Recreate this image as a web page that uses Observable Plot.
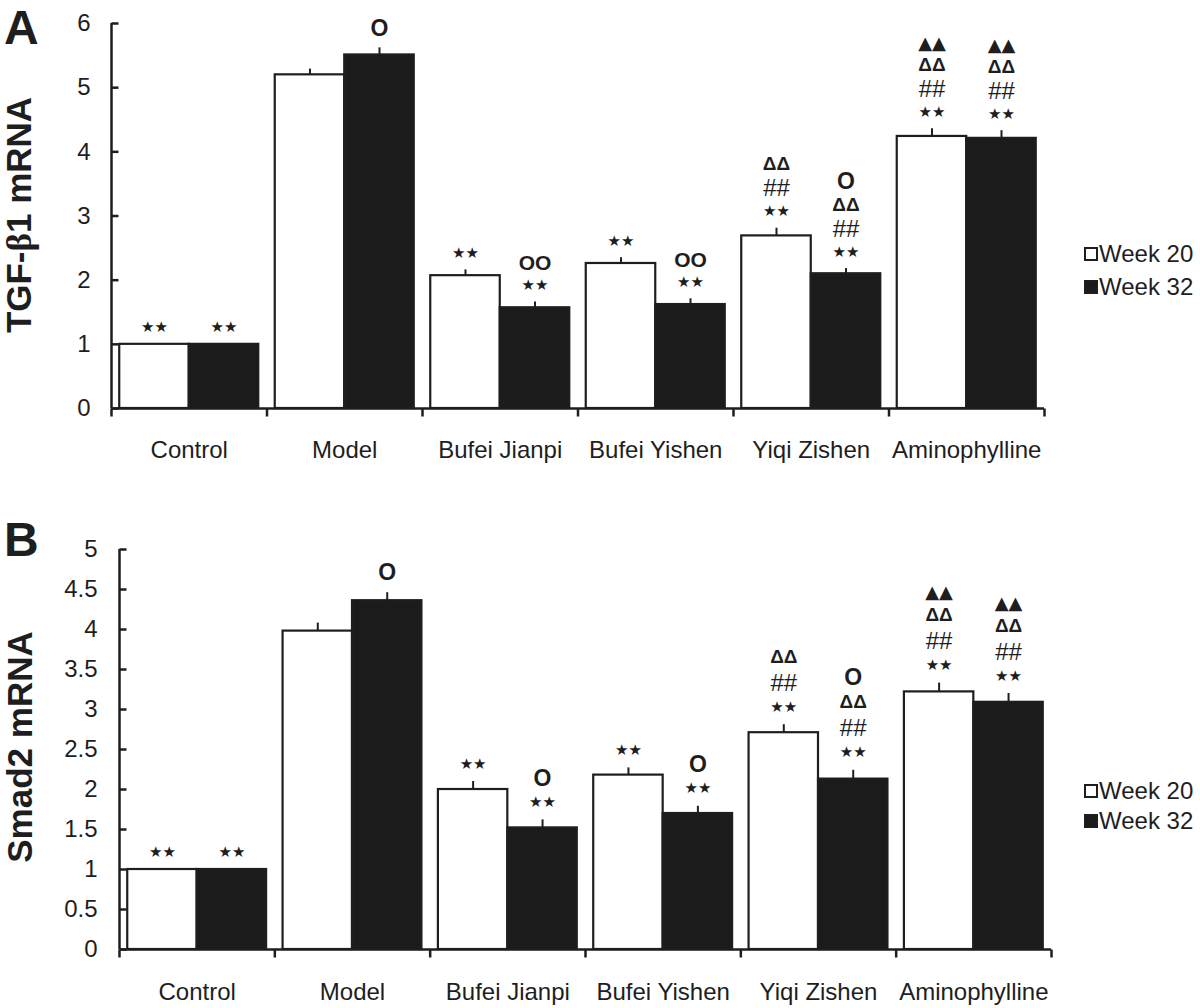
<!DOCTYPE html>
<html><head><meta charset="utf-8">
<script src="https://cdn.jsdelivr.net/npm/d3@7"></script>
<script src="https://cdn.jsdelivr.net/npm/@observablehq/plot@0.6"></script>
<style>
body{margin:0;background:#fff;width:1200px;height:1008px;overflow:hidden;position:relative;font-family:"Liberation Sans",Arial,sans-serif;color:#1e1e1e}
.abs{position:absolute;white-space:nowrap;line-height:1}
.panel{position:absolute;left:0}
.letter{font-weight:bold;font-size:48px;left:4px}
.ytitle{font-weight:bold;font-size:35px;transform:translate(-50%,-50%) rotate(-90deg)}
.ytitle .greek{font-family:"Liberation Serif","Times New Roman",serif;font-weight:bold}
.leg{font-size:24px;left:1099px}
.sw{position:absolute;left:1084px;width:14px;height:14px;box-sizing:border-box;border:2px solid #1e1e1e}
</style></head><body>
<div id="pA" class="panel" style="top:0"></div>
<div id="pB" class="panel" style="top:500px"></div>
<div class="abs letter" style="top:4px">A</div>
<div class="abs letter" style="top:516px">B</div>
<div class="abs ytitle" style="left:19px;top:215px">TGF-<span class="greek">β</span>1 mRNA</div>
<div class="abs ytitle" style="left:19px;top:747px">Smad2 mRNA</div>
<div id="legA"></div>
<div id="legB"></div>
<script>
// ---- data ----
const groups = ["Control", "Model", "Bufei Jianpi", "Bufei Yishen", "Yiqi Zishen", "Aminophylline"];
const series = ["Week 20", "Week 32"];

const tgfWeek20 = [1, 5.20, 2.07, 2.26, 2.69, 4.24];
const tgfWeek32 = [1, 5.51, 1.57, 1.62, 2.10, 4.21];
const tgfErr20 = [0, 0.09, 0.09, 0.09, 0.12, 0.12];
const tgfErr32 = [0, 0.11, 0.09, 0.09, 0.08, 0.12];
const tgfSig20 = [["**"], [], ["**"], ["**"], ["**", "##", "ΔΔ"], ["**", "##", "ΔΔ", "▲▲"]];
const tgfSig32 = [["**"], ["O"], ["**", "OO"], ["**", "OO"], ["**", "##", "ΔΔ", "O"], ["**", "##", "ΔΔ", "▲▲"]];
const tgfTicks = [0, 1, 2, 3, 4, 5, 6];

const smadWeek20 = [1, 3.98, 2.00, 2.18, 2.71, 3.22];
const smadWeek32 = [1, 4.36, 1.52, 1.70, 2.13, 3.09];
const smadErr20 = [0, 0.10, 0.10, 0.09, 0.10, 0.11];
const smadErr32 = [0, 0.10, 0.10, 0.09, 0.11, 0.11];
const smadSig20 = [["**"], [], ["**"], ["**"], ["**", "##", "ΔΔ"], ["**", "##", "ΔΔ", "▲▲"]];
const smadSig32 = [["**"], ["O"], ["**", "O"], ["**", "O"], ["**", "##", "ΔΔ", "O"], ["**", "##", "ΔΔ", "▲▲"]];
const smadTicks = [0, 0.5, 1, 1.5, 2, 2.5, 3, 3.5, 4, 4.5, 5];

// ---- styles ----
const ink = "#1e1e1e";
const labelFont = '"Liberation Sans",Arial,sans-serif';
const symStyle = {
  "**": {text: "★★", fontFamily: '"DejaVu Sans",sans-serif', fontSize: 15, fontWeight: "normal", adv: 19.5},
  "##": {text: "##", fontFamily: '"Liberation Sans",Arial,sans-serif', fontSize: 24, fontWeight: "normal", adv: 26.5},
  "ΔΔ": {text: "ΔΔ", fontFamily: '"Liberation Sans",Arial,sans-serif', fontSize: 19, fontWeight: "bold", adv: 22},
  "▲▲": {text: "▲▲", fontFamily: '"DejaVu Sans",sans-serif', fontSize: 18, fontWeight: "normal", adv: 20},
  "O":  {text: "O", fontFamily: '"Liberation Sans",Arial,sans-serif', fontSize: 23, fontWeight: "bold", adv: 20},
  "OO": {text: "OO", fontFamily: '"Liberation Sans",Arial,sans-serif', fontSize: 21, fontWeight: "bold", adv: 20}
};
const yTickSymbol = {draw(ctx) { ctx.moveTo(0, 0); ctx.lineTo(7, 0); }};
const xTickSymbol = {draw(ctx) { ctx.moveTo(0, 0); ctx.lineTo(0, 8); }};

function makePanel(cfg) {
  const inset = 0.053;
  const rows = [];
  groups.forEach((g, i) => {
    [cfg.v20, cfg.v32].forEach((vals, s) => {
      const x1 = s === 0 ? i + inset : i + 0.5;
      const x2 = s === 0 ? i + 0.5 : i + 1 - inset;
      rows.push({group: g, series: series[s], x1, x2, xc: (x1 + x2) / 2,
        value: vals[i], err: (s === 0 ? cfg.e20 : cfg.e32)[i],
        sig: (s === 0 ? cfg.s20 : cfg.s32)[i]});
    });
  });
  // annotation rows, stacked upwards
  const ann = [];
  rows.forEach(r => {
    let off = cfg.base;
    r.sig.forEach(sym => {
      ann.push({x: r.xc, y: r.value + r.err, sym, off: Math.round(off)});
      off += symStyle[sym].adv * cfg.gap;
    });
  });
  const annGroups = d3.groups(ann, d => d.sym + "|" + d.off);
  const annMarks = annGroups.map(([key, list]) => {
    const st = symStyle[list[0].sym];
    return Plot.text(list, {x: "x", y: "y", text: () => st.text, dy: -list[0].off,
      lineAnchor: "bottom", fontSize: st.fontSize, fontFamily: st.fontFamily,
      fontWeight: st.fontWeight, fill: ink});
  });
  const ymax = cfg.ticks[cfg.ticks.length - 1];
  return Plot.plot({
    width: 1200, height: cfg.height,
    marginLeft: cfg.ml, marginRight: cfg.mr, marginTop: cfg.mt, marginBottom: cfg.mb,
    style: {fontFamily: labelFont, color: ink, background: "transparent"},
    x: {type: "linear", domain: [0, groups.length]},
    y: {domain: [0, ymax]},
    color: {domain: series, range: ["#ffffff", "#1b1b1b"]},
    marks: [
      Plot.rectY(rows, {x1: "x1", x2: "x2", y1: 0, y2: "value", fill: "series", stroke: ink, strokeWidth: 2.2}),
      Plot.ruleX(rows.filter(d => d.err > 0), {x: "xc", y1: "value", y2: d => d.value + d.err, stroke: ink, strokeWidth: 2}),
      Plot.ruleX([0], {y1: 0, y2: ymax, stroke: ink, strokeWidth: 2.5}),
      Plot.ruleY([0], {x1: 0, x2: groups.length, stroke: ink, strokeWidth: 2.5}),
      Plot.dot(cfg.ticks, {y: d => d, frameAnchor: "left", symbol: yTickSymbol, stroke: ink, strokeWidth: 2.5, r: 4}),
      Plot.dot(d3.range(groups.length + 1), {x: d => d, frameAnchor: "bottom", symbol: xTickSymbol, stroke: ink, strokeWidth: 2.5, r: 4}),
      Plot.axisY({ticks: cfg.ticks, tickSize: 0, tickPadding: cfg.ytp, tickFormat: d => String(d), fontSize: 24, label: null}),
      Plot.axisX({ticks: groups.map((g, i) => i + 0.5), tickSize: 0, tickPadding: cfg.xtp,
        tickFormat: d => groups[Math.round(d - 0.5)], fontSize: 24, label: null}),
      ...annMarks
    ]
  });
}

document.getElementById("pA").append(makePanel({
  v20: tgfWeek20, v32: tgfWeek32, e20: tgfErr20, e32: tgfErr32, s20: tgfSig20, s32: tgfSig32,
  ticks: tgfTicks, height: 470, ml: 111, mr: 156, mt: 23, mb: 62, ytp: 21, xtp: 32, gap: 1.0, base: 12
}));
document.getElementById("pB").append(makePanel({
  v20: smadWeek20, v32: smadWeek32, e20: smadErr20, e32: smadErr32, s20: smadSig20, s32: smadSig32,
  ticks: smadTicks, height: 508, ml: 119, mr: 149, mt: 49, mb: 59, ytp: 22, xtp: 33, gap: 1.06, base: 13
}));

// legends
function legend(el, tops) {
  const fills = ["#ffffff", "#1b1b1b"];
  series.forEach((s, i) => {
    const sw = document.createElement("div");
    sw.className = "sw"; sw.style.top = tops[i] + "px"; sw.style.background = fills[i];
    const t = document.createElement("div");
    t.className = "abs leg"; t.textContent = s; t.style.top = (tops[i] - 5) + "px";
    el.append(sw, t);
  });
}
legend(document.getElementById("legA"), [247, 280]);
legend(document.getElementById("legB"), [784, 814]);
</script>
</body></html>
